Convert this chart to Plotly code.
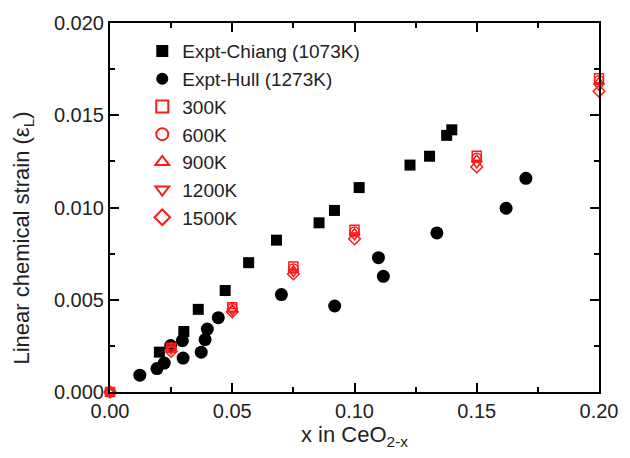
import plotly.graph_objects as go

# Experimental data
chiang_x = [0.0202, 0.0302, 0.0361, 0.0471, 0.0567, 0.0681, 0.0855, 0.0918, 0.1019, 0.1227, 0.1307, 0.1377, 0.1398]
chiang_y = [0.00216, 0.00328, 0.00448, 0.0055, 0.00701, 0.00823, 0.00917, 0.00984, 0.01108, 0.0123, 0.01278, 0.01391, 0.01421]

hull_x = [0.0042, 0.0122, 0.0192, 0.0222, 0.0248, 0.0299, 0.0296, 0.0373, 0.0389, 0.0398, 0.0443,
          0.0701, 0.0919, 0.1098, 0.1118, 0.1337, 0.162, 0.1701]
hull_y = [-0.0003, 0.00091, 0.00127, 0.00157, 0.00252, 0.00184, 0.00278, 0.00216, 0.00284, 0.00341, 0.00403,
          0.00528, 0.00466, 0.00728, 0.00627, 0.00862, 0.00996, 0.01158]

# Simulation data
sim_x = [0.0, 0.025, 0.05, 0.075, 0.1, 0.15, 0.2]
sim_300 = [0.0, 0.0024, 0.0046, 0.0068, 0.0088, 0.0128, 0.0170]
sim_600 = [0.0, 0.0024, 0.00455, 0.0067, 0.0087, 0.0127, 0.0169]
sim_900 = [0.0, 0.0024, 0.0045, 0.0066, 0.0086, 0.0126, 0.0168]
sim_1200 = [0.0, 0.0023, 0.0044, 0.0065, 0.0085, 0.0124, 0.0166]
sim_1500 = [0.0, 0.0022, 0.00435, 0.0064, 0.0083, 0.0122, 0.0163]

x_ticks = [0.0, 0.05, 0.10, 0.15, 0.20]
x_labels = ["0.00", "0.05", "0.10", "0.15", "0.20"]
y_ticks = [0.0, 0.005, 0.010, 0.015, 0.020]
y_labels = ["0.000", "0.005", "0.010", "0.015", "0.020"]

FONT = "Liberation Sans, Arial, sans-serif"
RED = "#ff1a1a"

fig = go.Figure()
fig.add_trace(go.Scatter(x=chiang_x, y=chiang_y, mode="markers", name="Expt-Chiang (1073K)",
                         marker=dict(symbol="square", size=11, color="black"), cliponaxis=False))
fig.add_trace(go.Scatter(x=hull_x, y=hull_y, mode="markers", name="Expt-Hull (1273K)",
                         marker=dict(symbol="circle", size=13, color="black"), cliponaxis=False))
sims = [("300K", sim_300, "square-open"), ("600K", sim_600, "circle-open"),
        ("900K", sim_900, "triangle-up-open"), ("1200K", sim_1200, "triangle-down-open"),
        ("1500K", sim_1500, "diamond-open")]
for name, ys, sym in sims:
    fig.add_trace(go.Scatter(x=sim_x, y=ys, mode="markers", name=name,
                             marker=dict(symbol=sym, size=9, color=RED, line=dict(color=RED, width=1.5)),
                             cliponaxis=False))

axis_common = dict(showline=True, linecolor="black", linewidth=2, mirror="allticks",
                   ticks="inside", ticklen=9, tickwidth=1.5, tickcolor="black",
                   showgrid=False, zeroline=False,
                   tickfont=dict(family=FONT, size=20, color="#222"),
                   minor=dict(ticks="inside", ticklen=5, tickwidth=1.5, tickcolor="black"))

fig.update_xaxes(range=[0, 0.2], tickvals=x_ticks, ticktext=x_labels,
                 title=dict(text="x in CeO<sub>2-x</sub>", font=dict(family=FONT, size=22, color="#222"), standoff=6),
                 **axis_common)
fig.update_xaxes(minor=dict(tickvals=[0.025, 0.075, 0.125, 0.175]))
fig.update_yaxes(range=[0, 0.02], tickvals=y_ticks, ticktext=y_labels, **axis_common)
fig.update_yaxes(minor=dict(tickvals=[0.0025, 0.0075, 0.0125, 0.0175]))

fig.add_annotation(text="Linear chemical strain (ε<sub>L</sub>)", textangle=-90,
                   xref="paper", yref="paper", x=-0.177, y=0.417, xanchor="center", yanchor="middle",
                   showarrow=False, font=dict(family=FONT, size=22, color="#222"))

fig.update_layout(
    width=630, height=458,
    margin=dict(l=110, r=22, t=18, b=66, pad=0),
    plot_bgcolor="white", paper_bgcolor="white",
    font=dict(family=FONT, size=19, color="#222"),
    legend=dict(x=0.066, y=0.975, xanchor="left", yanchor="top",
                font=dict(family=FONT, size=19, color="#222"),
                bgcolor="rgba(0,0,0,0)", tracegroupgap=0, itemsizing="constant"),
)

fig.write_html("out.html")
